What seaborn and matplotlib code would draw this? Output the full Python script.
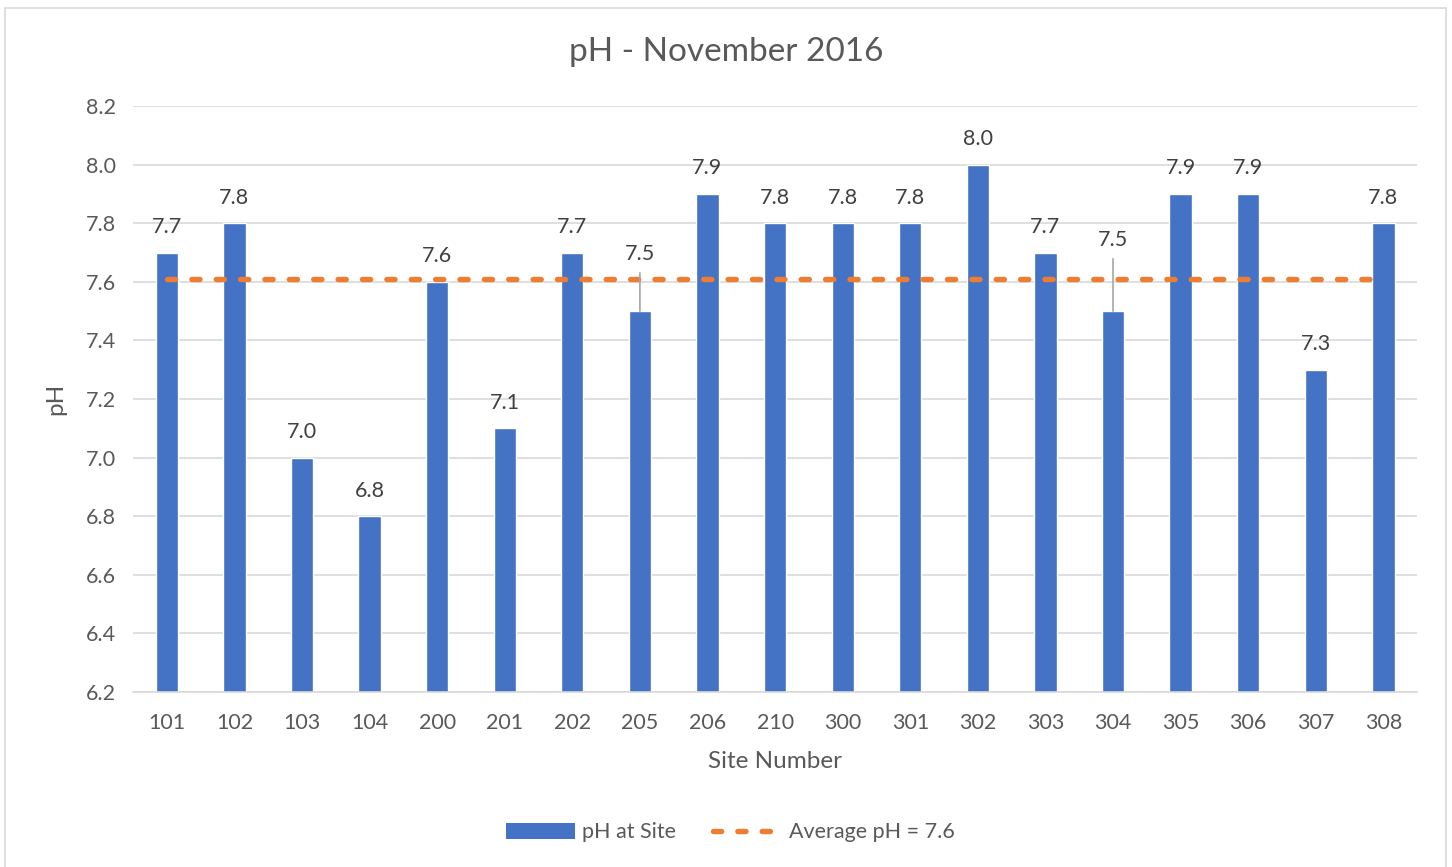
import matplotlib
matplotlib.use("Agg")
import matplotlib.pyplot as plt
import pandas as pd
import seaborn as sns
from matplotlib.lines import Line2D
from matplotlib.patches import Patch, Rectangle

# data
sites = ["101", "102", "103", "104", "200", "201", "202", "205", "206", "210",
         "300", "301", "302", "303", "304", "305", "306", "307", "308"]
ph_values = [7.7, 7.8, 7.0, 6.8, 7.6, 7.1, 7.7, 7.5, 7.9, 7.8,
             7.8, 7.8, 8.0, 7.7, 7.5, 7.9, 7.9, 7.3, 7.8]
average_ph = 7.61
y_ticks = [6.2, 6.4, 6.6, 6.8, 7.0, 7.2, 7.4, 7.6, 7.8, 8.0, 8.2]
# labels that were dragged up in the original, with a leader line
moved_labels = {"205": 7.695, "304": 7.743}

BAR_COLOR = "#4472C4"
LINE_COLOR = "#ED7D31"
TEXT_COLOR = "#595959"
GRID_COLOR = "#D9D9D9"
DASH = (0, (1.5, 3.0))

sns.set_style("white")
plt.rcParams["font.family"] = ["Lato", "DejaVu Sans"]

df = pd.DataFrame({"site": sites, "ph": ph_values})

fig = plt.figure(figsize=(14.52, 8.67), dpi=100)
ax = fig.add_axes([0.0916, 0.2018, 0.976 - 0.0916, 0.8777 - 0.2018])

sns.barplot(data=df, x="site", y="ph", order=sites, color=BAR_COLOR,
            width=0.33, saturation=1, ax=ax, zorder=2)
sns.lineplot(x=sites, y=[average_ph] * len(sites), sort=False, ax=ax,
             color=LINE_COLOR, linewidth=3.9, zorder=3)
ax.lines[-1].set_linestyle(DASH)
ax.lines[-1].set_dash_capstyle("round")

ax.set_ylim(6.2, 8.2)
ax.set_xlim(-0.5, len(sites) - 0.5)
ax.set_yticks(y_ticks)
ax.set_yticklabels([f"{t:.1f}" for t in y_ticks])
ax.yaxis.grid(True, color=GRID_COLOR, linewidth=1.2, zorder=0)
ax.set_axisbelow(True)
for side in ["top", "right", "left"]:
    ax.spines[side].set_visible(False)
ax.spines["bottom"].set_color(GRID_COLOR)
ax.spines["bottom"].set_linewidth(1.2)
ax.tick_params(axis="both", length=0, labelsize=15.5, colors=TEXT_COLOR)
ax.tick_params(axis="x", pad=15)
ax.tick_params(axis="y", pad=12)

# data labels
for i, (site, val) in enumerate(zip(sites, ph_values)):
    if site in moved_labels:
        ax.annotate(f"{val:.1f}", xy=(i, val), xytext=(i, moved_labels[site]),
                    ha="center", va="center", fontsize=15.5, color="#404040",
                    arrowprops=dict(arrowstyle="-", color="#A6A6A6", lw=1.2,
                                    shrinkA=4, shrinkB=0), zorder=4)
    else:
        ax.annotate(f"{val:.1f}", xy=(i, val), xytext=(0, 18.5),
                    textcoords="offset points", ha="center", va="center",
                    fontsize=15.5, color="#404040", zorder=4)

# title is centred on the whole chart area, not on the plot area
fig.suptitle("pH - November 2016", x=0.5, y=1 - 52 / 867, va="center",
             fontsize=24, color=TEXT_COLOR)
ax.set_xlabel("Site Number", fontsize=17.5, color=TEXT_COLOR, labelpad=13)
ax.set_ylabel("pH", fontsize=17.5, color=TEXT_COLOR, labelpad=14)

handles = [
    Patch(facecolor=BAR_COLOR, edgecolor="none"),
    Line2D([0], [0], color=LINE_COLOR, linewidth=3.9, linestyle=DASH,
           dash_capstyle="round"),
]
fig.legend(handles, ["pH at Site", "Average pH = 7.6"], loc="center",
           bbox_to_anchor=(0.503, 0.04), ncol=2, frameon=False, fontsize=15.5,
           labelcolor=TEXT_COLOR, handlelength=3.2, handleheight=0.75,
           columnspacing=1.7, handletextpad=0.35)

# chart area border
fig.patches.append(Rectangle((5 / 1452, -0.01), 1441 / 1452, 1 - 8 / 867 + 0.01,
                             transform=fig.transFigure, fill=False,
                             edgecolor=GRID_COLOR, linewidth=1.2))

fig.savefig("out.png", dpi=100)
